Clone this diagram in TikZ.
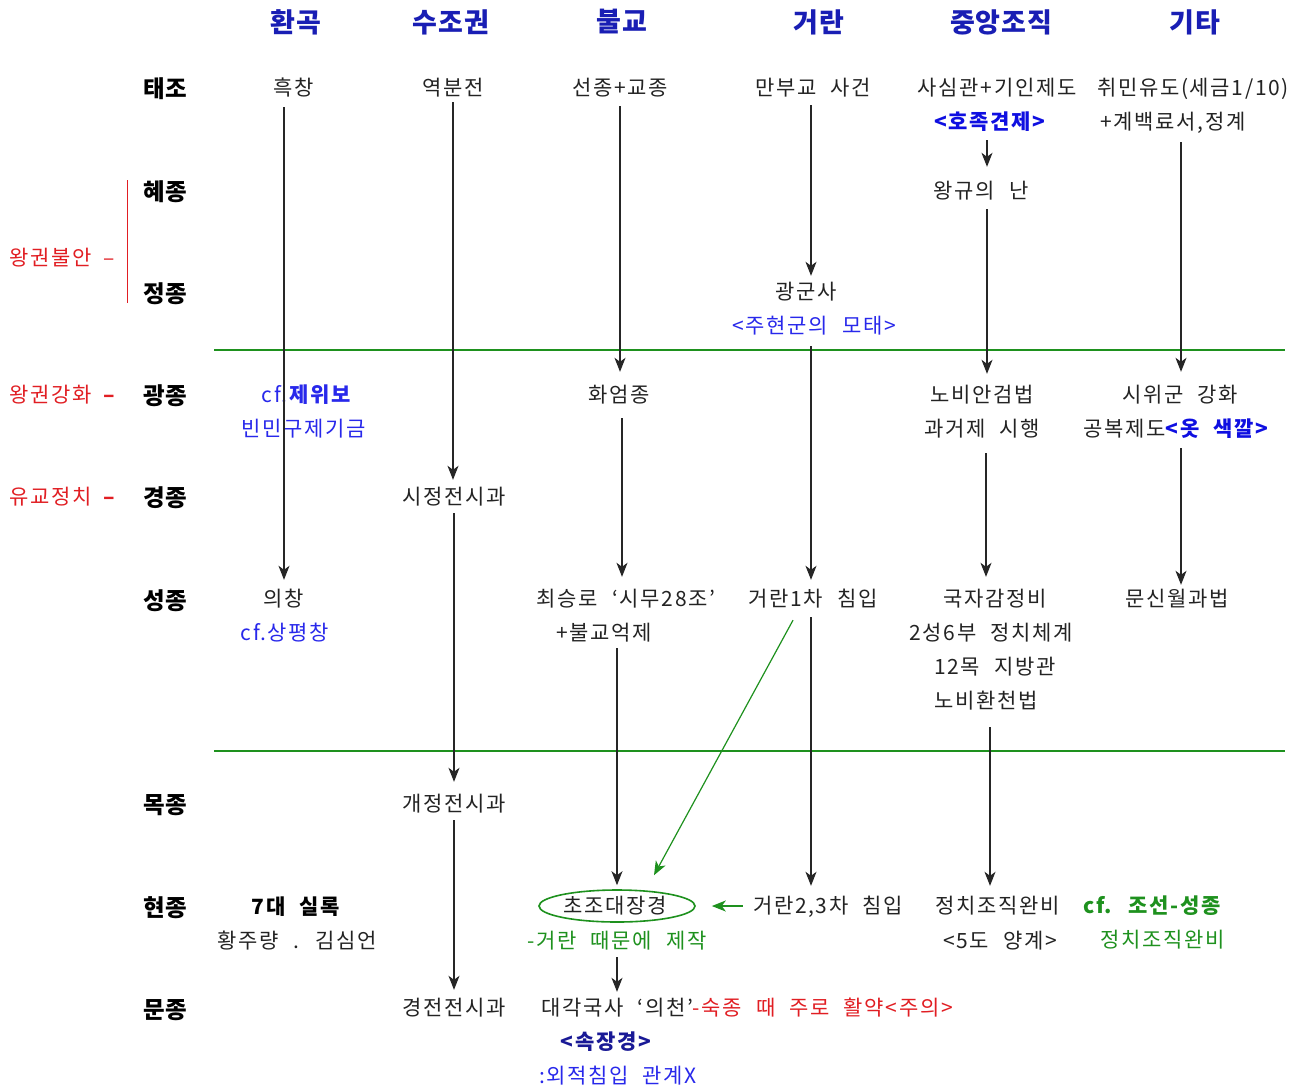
\documentclass[tikz,border=0pt]{standalone}
\usepackage{fontspec}
\usetikzlibrary{arrows.meta,shapes.geometric,calc}
\newfontfamily\kr[LetterSpace=8,WordSpace=2.2]{Noto Sans CJK KR}
\newfontfamily\krh[LetterSpace=3]{Noto Sans CJK KR}
\newfontfamily\krr[LetterSpace=2]{Noto Sans CJK KR}
\definecolor{hdblue}{RGB}{25,30,180}
\definecolor{tblue}{RGB}{40,40,235}
\definecolor{bblue}{RGB}{15,15,225}
\definecolor{dblue}{RGB}{25,25,150}
\definecolor{tred}{RGB}{225,30,35}
\definecolor{tgreen}{RGB}{30,145,30}
\definecolor{tblack}{RGB}{35,35,35}
\begin{document}
\begin{tikzpicture}[x=1pt,y=-1pt,
 txt/.style={font=\kr\fontsize{21}{22}\selectfont, text=tblack, inner sep=0pt, text height=16pt, text depth=2pt},
 bold/.style={font=\kr\bfseries\fontsize{21}{22}\selectfont},
 hdr/.style={font=\krh\bfseries\fontsize{27}{28}\selectfont, text=hdblue, inner sep=0pt},
 king/.style={font=\krr\bfseries\fontsize{23.5}{24}\selectfont, text=black, inner sep=0pt},
 arr/.style={draw=black!85, line width=1.3pt, -{Stealth[length=14pt,width=11pt,inset=4pt]}},
 garr/.style={draw=tgreen, line width=1.2pt, -{Stealth[length=14pt,width=11pt,inset=4pt]}},
 sepline/.style={draw=tgreen, line width=1.8pt}]
\fill[white] (0,0) rectangle (1290,1088);
\useasboundingbox (0,0) rectangle (1290,1088);

% headers
\node[hdr] (h1) at (296,22) {환곡};
\node[hdr] (h2) at (451,22) {수조권};
\node[hdr] (h3) at (622,22) {불교};
\node[hdr] (h4) at (819,22) {거란};
\node[hdr] (h5) at (1001,22) {중앙조직};
\node[hdr] (h6) at (1195,22) {기타};

% kings
\node[king] (k1) at (165,89) {태조};
\node[king] (k2) at (165,192) {혜종};
\node[king] (k3) at (165,294) {정종};
\node[king] (k4) at (165,396) {광종};
\node[king] (k5) at (165,498) {경종};
\node[king] (k6) at (165,601) {성종};
\node[king] (k7) at (165,805) {목종};
\node[king] (k8) at (165,908) {현종};
\node[king] (k9) at (165,1010) {문종};

% left labels
\node[txt, text=tred, anchor=west] (l1) at (9,258) {왕권불안\hspace{12pt}–};
\node[txt, text=tred, anchor=west] (l2) at (9,395) {왕권강화\hspace{10pt}\textbf{–}};
\node[txt, text=tred, anchor=west] (l3) at (9,497) {유교정치\hspace{10pt}\textbf{–}};
\draw[tred, line width=1pt] (127,180) -- (127,303);

% separators
\draw[sepline] (214,350) -- (1285,350);
\draw[sepline] (214,751) -- (1285,751);

% body
\node[txt] (hc) at (294,88) {흑창};
\node[txt] (ybj) at (453,88) {역분전};
\node[txt] (sg) at (620,88) {선종+교종};
\node[txt] (mb) at (813,88) {만부교 사건};
\node[txt] (ss) at (997,88) {사심관+기인제도};
\node[txt] (cm) at (1193,88) {취민유도(세금1/10)};
\node[txt, bold, text=bblue] (hj) at (990,122) {<호족견제>};
\node[txt] (gb) at (1173,122) {+계백료서,정계};
\node[txt] (wg) at (981,191) {왕규의 난};
\node[txt] (ggs) at (806,292) {광군사};
\node[txt, text=tblue] (jh) at (814,326) {<주현군의 모태>};
\node[txt, text=tblue] (jwb) at (307,395) {cf.\textbf{제위보}};
\node[txt, text=tblue] (bm) at (304,429) {빈민구제기금};
\node[txt] (hy) at (619,395) {화엄종};
\node[txt] (nba) at (982,395) {노비안검법};
\node[txt] (gg) at (982,429) {과거제 시행};
\node[txt] (swg) at (1180,395) {시위군 강화};
\node[txt] (gbj) at (1177,429) {공복제도\textcolor{bblue}{\textbf{<옷 색깔>}}};
\node[txt] (sjj) at (454,497) {시정전시과};
\node[txt] (uc) at (284,599) {의창};
\node[txt, text=tblue] (spc) at (285,633) {cf.상평창};
\node[txt] (csr) at (626,599) {최승로 ‘시무28조’};
\node[txt] (bue) at (604,633) {+불교억제};
\node[txt] (g1) at (813,599) {거란1차 침입};
\node[txt] (gjg) at (995,599) {국자감정비};
\node[txt] (s26) at (991,633) {2성6부 정치체계};
\node[txt] (m12) at (995,667) {12목 지방관};
\node[txt] (nbh) at (986,701) {노비환천법};
\node[txt] (mswg) at (1177,599) {문신월과법};
\node[txt] (gjj) at (454,804) {개정전시과};
\node[txt, bold, text=black] (sr) at (296,907) {7대 실록};
\node[txt] (hjr) at (297,941) {황주량 . 김심언};
\node[draw=tgreen, line width=1.6pt, ellipse, minimum width=156pt, minimum height=32pt, inner sep=0pt] (el) at (617,906) {};
\node[txt] (cj) at (615,906) {초조대장경};
\node[txt, text=tgreen] (gr) at (617,941) {-거란 때문에 제작};
\node[txt] (g23) at (828,906) {거란2,3차 침입};
\node[txt] (jcw) at (998,906) {정치조직완비};
\node[txt] (five) at (1000,941) {<5도 양계>};
\node[txt, bold, text=tgreen] (cfj) at (1152,906) {cf. 조선-성종};
\node[txt, text=tgreen] (jcw2) at (1163,940) {정치조직완비};
\node[txt] (kjj) at (454,1008) {경전전시과};
\node[txt, anchor=west] (dg) at (541,1008) {대각국사 ‘의천’\textcolor{tred}{-숙종 때 주로 활약<주의>}};
\node[txt, bold, text=dblue] (sjg) at (606,1042) {<속장경>};
\node[txt, text=tblue] (wj) at (618,1076) {:외적침입 관계X};

% arrows
\draw[arr, shorten <=10pt, shorten >=10pt] (hc.south -| uc) -- (uc.north);
\draw[arr, shorten <=5pt, shorten >=8pt] (ybj.south) -- (ybj.south |- sjj.north);
\draw[arr, shorten <=7pt, shorten >=13pt] (sjj.south) -- (sjj.south |- gjj.north);
\draw[arr, shorten <=7pt, shorten >=9pt] (gjj.south) -- (gjj.south |- kjj.north);
\draw[arr, shorten <=9pt, shorten >=14pt] (sg.south) -- (sg.south |- hy.north);
\draw[arr, shorten <=14pt, shorten >=13pt] ([xshift=3pt]hy.south) -- ([xshift=3pt]hy.south |- csr.north);
\draw[arr, shorten <=6pt, shorten >=4pt] (bue.south -| el) -- (el.north);
\draw[arr, shorten <=7pt, shorten >=7pt] (gr.south -| el) -- (el |- dg.north);
\draw[arr, shorten <=8pt, shorten >=7pt] ([xshift=-2pt]mb.south) -- ([xshift=-2pt]mb.south |- ggs.north);
\draw[arr, shorten <=11pt, shorten >=10pt] ([xshift=-2pt]jh.south -| mb.south) -- ([xshift=-2pt]mb.south |- g1.north);
\draw[arr, shorten <=9pt, shorten >=11pt] ([xshift=-2pt]g1.south) -- ([xshift=-2pt]g1.south |- g23.north);
\draw[arr, shorten <=9pt, shorten >=15pt] ([xshift=-3pt]hj.south) -- ([xshift=-3pt]hj.south |- wg.north);
\draw[arr, shorten <=9pt, shorten >=12pt] ([xshift=6pt]wg.south) -- ([xshift=6pt]wg.south |- nba.north);
\draw[arr, shorten <=15pt, shorten >=13pt] ([xshift=4pt]gg.south) -- ([xshift=4pt]gg.south |- gjg.north);
\draw[arr, shorten <=17pt, shorten >=11pt] ([xshift=4pt]nbh.south) -- ([xshift=4pt]nbh.south |- jcw.north);
\draw[arr, shorten <=11pt, shorten >=14pt] ([xshift=8pt]gb.south) -- ([xshift=8pt]gb.south |- swg.north);
\draw[arr, shorten <=10pt, shorten >=5pt] ([xshift=4pt]gbj.south) -- ([xshift=4pt]gbj.south |- mswg.north);
\draw[garr] ([xshift=-20pt,yshift=-12pt]g1.south) -- ([xshift=37pt,yshift=14pt]el.north);
\draw[garr, line width=1.6pt, shorten <=10pt, shorten >=16pt] (g23.west) -- (el.east);
\end{tikzpicture}
\end{document}
